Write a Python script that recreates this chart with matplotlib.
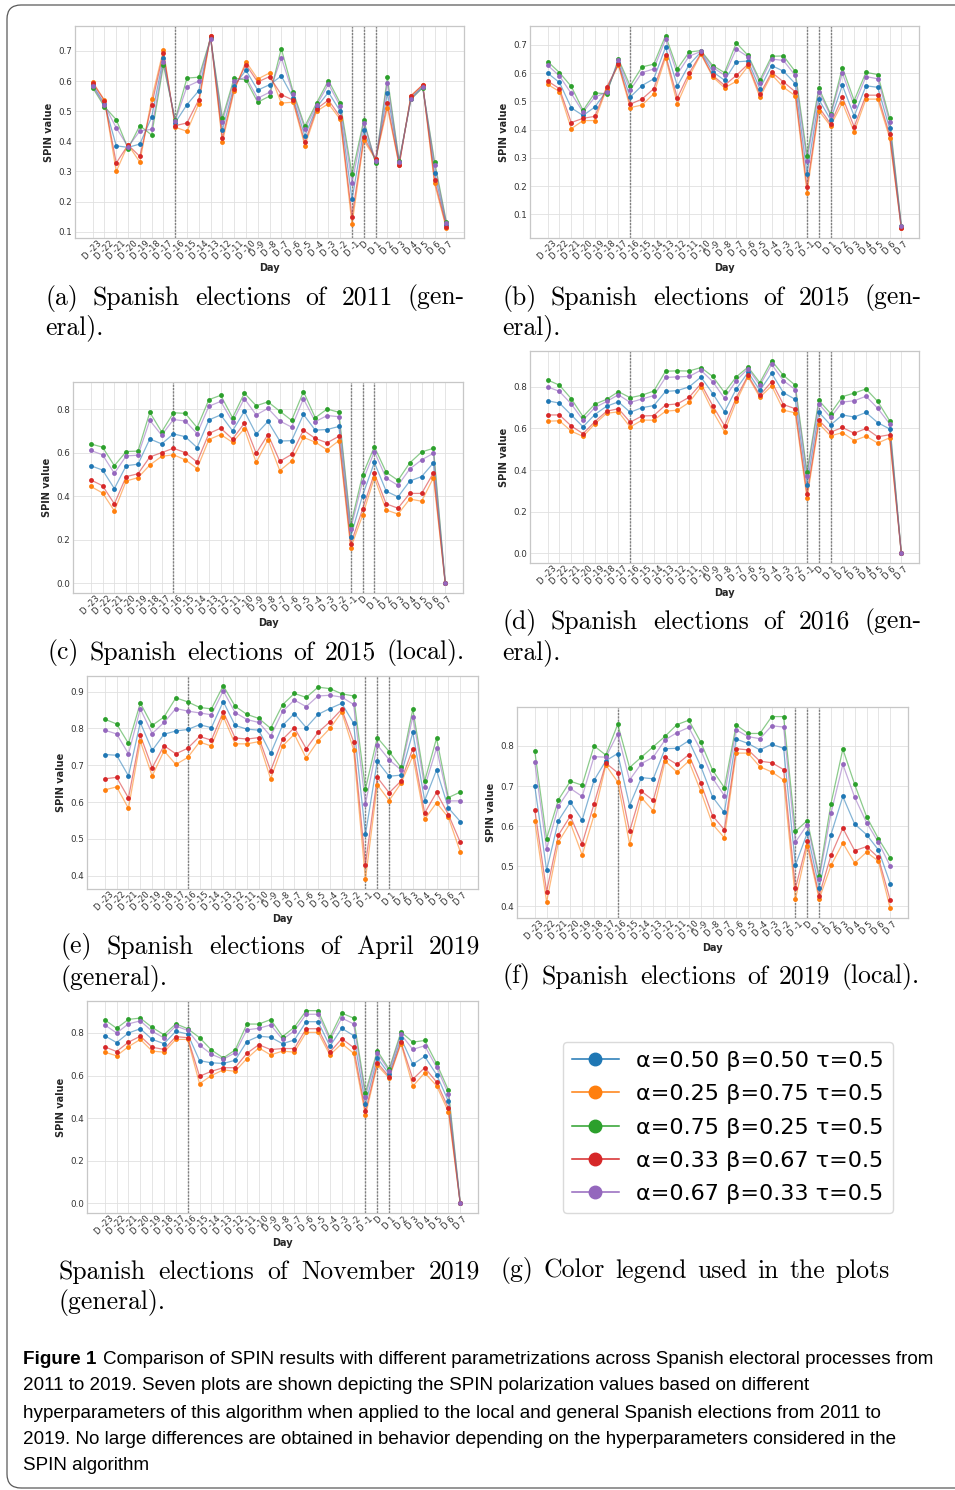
import numpy as np
import matplotlib
matplotlib.use("Agg")
import matplotlib.pyplot as plt
from matplotlib.lines import Line2D
from matplotlib.patches import FancyBboxPatch
from matplotlib.transforms import IdentityTransform

W, H = 955, 1490

DAYS = ["D -23", "D -22", "D -21", "D -20", "D -19", "D -18", "D -17", "D -16",
        "D -15", "D -14", "D -13", "D -12", "D -11", "D -10", "D -9", "D -8",
        "D -7", "D -6", "D -5", "D -4", "D -3", "D -2", "D -1", "D",
        "D 1", "D 2", "D 3", "D 4", "D 5", "D 6", "D 7"]
VLINE_DAYS = ["D -16", "D -1", "D", "D 1"]

LABELS = ["α=0.50 β=0.50 τ=0.5", "α=0.25 β=0.75 τ=0.5", "α=0.75 β=0.25 τ=0.5",
          "α=0.33 β=0.67 τ=0.5", "α=0.67 β=0.33 τ=0.5"]
COLORS = ["#1f77b4", "#ff7f0e", "#2ca02c", "#d62728", "#9467bd"]

# (a) 2011 general
A_B = [.587,.525,.385,.380,.391,.480,.678,.462,.522,.568,.745,.437,.585,.636,.570,.588,.617,.545,.418,.513,.563,.500,.207,.437,.333,.561,.330,.545,.582,.296,.123]
A_O = [.597,.537,.300,.389,.331,.540,.703,.447,.433,.525,.750,.397,.567,.665,.607,.627,.527,.530,.386,.500,.525,.473,.124,.403,.340,.511,.321,.552,.587,.260,.111]
A_G = [.578,.515,.472,.376,.452,.421,.653,.472,.610,.613,.742,.477,.610,.604,.530,.550,.708,.565,.450,.528,.602,.527,.290,.470,.328,.612,.335,.540,.578,.333,.133]
A_R = [.594,.535,.328,.388,.350,.520,.694,.452,.461,.538,.751,.410,.575,.655,.597,.615,.555,.537,.397,.508,.537,.481,.150,.413,.343,.526,.322,.550,.588,.272,.117]
A_P = [.583,.520,.445,.382,.434,.440,.665,.468,.582,.600,.740,.465,.600,.613,.543,.563,.678,.558,.440,.520,.590,.517,.262,.460,.335,.595,.332,.540,.580,.322,.128]

# (b) 2015 general
B_B = [.600,.567,.477,.450,.480,.537,.637,.515,.556,.580,.692,.555,.630,.675,.605,.575,.640,.643,.545,.627,.607,.563,.243,.507,.435,.557,.448,.555,.550,.405,.055]
B_O = [.560,.535,.403,.432,.432,.545,.628,.478,.487,.527,.655,.492,.588,.667,.587,.548,.571,.625,.515,.595,.550,.520,.177,.467,.413,.495,.392,.508,.508,.372,.050]
B_G = [.641,.602,.553,.468,.530,.527,.650,.555,.622,.632,.733,.615,.675,.680,.627,.602,.707,.663,.575,.660,.661,.606,.308,.547,.455,.620,.503,.603,.595,.440,.060]
B_R = [.572,.545,.425,.440,.447,.550,.632,.490,.508,.545,.665,.512,.600,.670,.592,.557,.592,.632,.525,.603,.569,.534,.197,.480,.420,.515,.410,.522,.522,.383,.051]
B_P = [.628,.590,.528,.462,.515,.532,.645,.540,.602,.615,.720,.597,.660,.677,.620,.593,.685,.658,.565,.650,.645,.592,.288,.535,.450,.600,.485,.588,.580,.428,.057]

# (c) 2015 local
C_B = [.54,.52,.435,.54,.547,.663,.64,.686,.673,.623,.75,.773,.70,.79,.685,.743,.653,.655,.775,.703,.706,.72,.215,.403,.555,.423,.397,.47,.49,.553,0]
C_O = [.445,.415,.333,.47,.485,.543,.583,.59,.567,.527,.66,.683,.647,.71,.555,.66,.517,.562,.67,.648,.613,.655,.163,.312,.485,.337,.318,.387,.377,.485,0]
C_G = [.64,.625,.54,.605,.607,.785,.695,.783,.78,.715,.843,.863,.76,.873,.815,.833,.79,.748,.88,.76,.80,.785,.267,.497,.627,.51,.473,.553,.603,.62,0]
C_R = [.475,.448,.365,.49,.503,.58,.60,.62,.60,.557,.688,.712,.662,.735,.597,.683,.56,.592,.703,.665,.645,.675,.18,.34,.505,.365,.345,.413,.413,.507,0]
C_P = [.61,.59,.505,.585,.588,.748,.68,.752,.745,.687,.813,.835,.742,.848,.773,.803,.745,.717,.847,.742,.77,.765,.25,.467,.605,.483,.45,.525,.567,.597,0]

# (d) 2016 general
D_B = [.733,.722,.665,.608,.667,.707,.728,.678,.70,.71,.778,.782,.80,.847,.768,.68,.79,.87,.783,.865,.772,.74,.328,.678,.617,.665,.655,.677,.628,.598,0]
D_O = [.635,.637,.587,.562,.622,.673,.68,.607,.64,.64,.683,.688,.725,.80,.683,.585,.73,.848,.75,.805,.688,.675,.265,.623,.565,.58,.542,.563,.53,.555,0]
D_G = [.833,.808,.743,.657,.717,.74,.777,.748,.76,.78,.875,.877,.876,.893,.85,.773,.848,.895,.82,.926,.855,.808,.39,.735,.672,.753,.77,.79,.73,.638,0]
D_R = [.665,.665,.612,.575,.633,.683,.695,.63,.66,.662,.713,.718,.75,.815,.71,.613,.748,.855,.76,.825,.715,.695,.285,.64,.582,.605,.577,.60,.56,.57,0]
D_P = [.80,.778,.718,.64,.70,.73,.762,.725,.742,.758,.845,.848,.85,.88,.825,.745,.83,.888,.807,.908,.83,.787,.37,.718,.653,.727,.733,.755,.697,.623,0]

# (e) April 2019 general
E_B = [.729,.727,.671,.816,.74,.784,.793,.797,.81,.802,.873,.808,.798,.795,.732,.808,.84,.802,.838,.854,.868,.814,.512,.711,.670,.673,.789,.604,.687,.584,.547]
E_O = [.633,.641,.583,.765,.671,.739,.702,.721,.763,.752,.832,.758,.758,.764,.663,.752,.784,.719,.766,.80,.844,.742,.39,.647,.604,.651,.725,.553,.598,.558,.465]
E_G = [.825,.812,.759,.869,.808,.831,.883,.872,.857,.853,.916,.86,.838,.827,.80,.864,.895,.884,.912,.908,.894,.888,.635,.775,.737,.694,.852,.657,.773,.612,.627]
E_R = [.663,.667,.611,.781,.693,.753,.731,.746,.778,.768,.845,.774,.771,.775,.685,.77,.802,.745,.789,.818,.852,.764,.43,.667,.625,.657,.745,.57,.626,.566,.491]
E_P = [.795,.785,.731,.853,.786,.816,.854,.847,.842,.837,.902,.843,.824,.816,.779,.846,.877,.859,.888,.89,.885,.865,.595,.755,.715,.687,.832,.641,.746,.603,.603]

# (f) 2019 local
F_B = [.70,.49,.614,.66,.615,.714,.763,.781,.651,.721,.718,.793,.794,.813,.75,.673,.634,.817,.806,.79,.804,.794,.503,.583,.447,.579,.674,.605,.579,.541,.457]
F_O = [.613,.411,.561,.608,.528,.627,.752,.71,.556,.671,.638,.762,.735,.762,.688,.605,.571,.782,.782,.748,.735,.715,.418,.551,.418,.502,.558,.508,.535,.513,.395]
F_G = [.787,.569,.666,.712,.702,.80,.777,.854,.746,.772,.798,.824,.853,.864,.81,.74,.696,.852,.831,.831,.873,.873,.587,.614,.476,.656,.792,.704,.624,.569,.521]
F_R = [.641,.437,.578,.625,.556,.655,.757,.733,.587,.687,.664,.772,.754,.778,.708,.626,.591,.793,.79,.762,.758,.741,.445,.562,.427,.527,.595,.539,.549,.522,.415]
F_P = [.759,.543,.65,.694,.674,.773,.772,.83,.715,.756,.772,.815,.833,.846,.79,.72,.676,.84,.823,.818,.85,.847,.56,.604,.469,.632,.754,.672,.609,.56,.50]

# (g) November 2019 general
G_B = [.787,.755,.80,.82,.77,.75,.808,.795,.67,.66,.657,.672,.76,.785,.78,.75,.767,.853,.853,.738,.822,.788,.465,.683,.607,.775,.653,.69,.605,.48,0]
G_O = [.71,.693,.736,.77,.715,.71,.77,.77,.562,.60,.627,.62,.68,.73,.697,.715,.71,.803,.803,.697,.75,.705,.413,.648,.588,.75,.55,.613,.553,.43,0]
G_G = [.862,.822,.864,.87,.826,.792,.843,.82,.778,.72,.683,.72,.842,.842,.863,.783,.827,.905,.905,.78,.893,.87,.52,.717,.63,.805,.757,.765,.657,.532,0]
G_R = [.735,.713,.757,.785,.733,.723,.783,.778,.597,.62,.637,.637,.705,.745,.722,.727,.727,.82,.82,.71,.773,.732,.432,.66,.595,.757,.583,.637,.57,.447,0]
G_P = [.838,.80,.843,.857,.808,.777,.833,.812,.743,.70,.677,.707,.815,.822,.838,.77,.81,.888,.888,.767,.87,.843,.50,.705,.622,.793,.723,.74,.64,.515,0]

plt.rcParams["font.family"] = ["DejaVu Sans"]
fig = plt.figure(figsize=(W / 100, H / 100), dpi=100)
fig.patch.set_facecolor("white")


def px_rect(l, t, r, b):
    return [l / W, 1 - b / H, (r - l) / W, (b - t) / H]


def draw_panel(rect, series):
    ax = fig.add_axes(px_rect(*rect))
    x = np.arange(len(DAYS))
    for d in VLINE_DAYS:
        ax.axvline(DAYS.index(d), color="0.5", ls=(0, (1.6, 0.8)), lw=1.0, zorder=1.5)
    for vals, c in zip(series, COLORS):
        ax.plot(x, vals, color=c, lw=0.9, alpha=0.55, zorder=2)
    for vals, c in zip(series, COLORS):
        ax.plot(x, vals, ls="none", marker="o", ms=3.5, mew=0, color=c, zorder=3)
    ax.set_xticks(x)
    ax.set_xticklabels(DAYS, rotation=45)
    ax.set_xlabel("Day", fontweight="bold", fontsize=7, labelpad=1, color="0.15")
    ax.set_ylabel("SPIN value", fontweight="bold", fontsize=7, labelpad=3, color="0.15")
    ax.grid(True, color="0.88", lw=0.6)
    ax.set_axisbelow(True)
    for s in ax.spines.values():
        s.set_color("0.78")
        s.set_linewidth(0.9)
    ax.tick_params(length=0, pad=2, labelsize=6.3, colors="0.2")
    ax.tick_params(axis="x", labelsize=6.0, pad=1)
    return ax


draw_panel((75, 26, 464, 238), [A_B, A_O, A_G, A_R, A_P])
draw_panel((530, 26, 919, 238), [B_B, B_O, B_G, B_R, B_P])
draw_panel((73, 382, 463, 593), [C_B, C_O, C_G, C_R, C_P])
draw_panel((530, 351, 919, 563), [D_B, D_O, D_G, D_R, D_P])
draw_panel((87, 676, 478, 889), [E_B, E_O, E_G, E_R, E_P])
draw_panel((517, 707, 908, 918), [F_B, F_O, F_G, F_R, F_P])
draw_panel((87, 1001, 478, 1213), [G_B, G_O, G_G, G_R, G_P])

# legend panel
handles = [Line2D([], [], color=c, marker="o", ms=9, lw=1.1) for c in COLORS]
fig.legend(handles, LABELS, loc="upper left", bbox_to_anchor=(563 / W, 1 - 1042 / H),
           bbox_transform=fig.transFigure, fontsize=16, frameon=True, borderaxespad=0,
           handlelength=2.1, handletextpad=0.8, labelspacing=0.6, borderpad=0.4,
           edgecolor="0.82", fancybox=True)

renderer = fig.canvas.get_renderer()
CAP_KW = dict(family="cmr10", fontsize=18.5, color="black", va="center")


def justify(words, x0, x1, y, **kw):
    texts = [fig.text(0, 0, w, **kw) for w in words]
    widths = [t.get_window_extent(renderer).width for t in texts]
    gap = (x1 - x0 - sum(widths)) / (len(words) - 1)
    x = x0
    for t, w in zip(texts, widths):
        t.set_position((x / W, 1 - y / H))
        x += w + gap


def left(text, x, y, **kw):
    fig.text(x / W, 1 - y / H, text, **kw)


justify(["(a)", "Spanish", "elections", "of", "2011", "(gen-"], 45, 465, 298, **CAP_KW)
left("eral).", 45, 328, **CAP_KW)
justify(["(b)", "Spanish", "elections", "of", "2015", "(gen-"], 502, 922, 298, **CAP_KW)
left("eral).", 502, 328, **CAP_KW)
justify(["(c)", "Spanish", "elections", "of", "2015", "(local)."], 47, 465, 653, **CAP_KW)
justify(["(d)", "Spanish", "elections", "of", "2016", "(gen-"], 502, 922, 622, **CAP_KW)
left("eral).", 502, 653, **CAP_KW)
justify(["(e)", "Spanish", "elections", "of", "April", "2019"], 60, 480, 947, **CAP_KW)
left("(general).", 60, 978, **CAP_KW)
justify(["(f)", "Spanish", "elections", "of", "2019", "(local)."], 502, 920, 977, **CAP_KW)
justify(["Spanish", "elections", "of", "November", "2019"], 58, 480, 1272, **CAP_KW)
left("(general).", 58, 1302, **CAP_KW)
justify(["(g)", "Color", "legend", "used", "in", "the", "plots"], 500, 890, 1271, **CAP_KW)

# figure caption
CAPFAM = ["Liberation Sans Narrow", "Liberation Sans", "DejaVu Sans"]
FIRST_LINE = "Comparison of SPIN results with different parametrizations across Spanish electoral processes from"
CAPTION_LINES = [
    "2011 to 2019. Seven plots are shown depicting the SPIN polarization values based on different",
    "hyperparameters of this algorithm when applied to the local and general Spanish elections from 2011 to",
    "2019. No large differences are obtained in behavior depending on the hyperparameters considered in the",
    "SPIN algorithm",
]
p1 = fig.text(0, 0, "Figure 1", family=CAPFAM, fontsize=10, fontweight="bold")
p2 = fig.text(0, 0, FIRST_LINE, family=CAPFAM, fontsize=10)
w1 = p1.get_window_extent(renderer).width + p2.get_window_extent(renderer).width
p1.remove(); p2.remove()
cs = 10 * (917 - 7) / w1
fig_lbl = fig.text(23 / W, 1 - 1360 / H, "Figure 1", family=CAPFAM, fontsize=cs, fontweight="bold", va="center")
lw_ = fig_lbl.get_window_extent(renderer).width
fig.text((23 + lw_ + 7) / W, 1 - 1360 / H, FIRST_LINE, family=CAPFAM, fontsize=cs, va="center")
for line, y in zip(CAPTION_LINES, [1386, 1413, 1439, 1466]):
    fig.text(23 / W, 1 - y / H, line, family=CAPFAM, fontsize=cs, va="center")

# outer rounded frame
frame = FancyBboxPatch((7, 2), 1000, 1483, boxstyle="round,pad=0,rounding_size=14",
                       transform=IdentityTransform(), fill=False, edgecolor="0.35", lw=0.9)
fig.patches.append(frame)

fig.savefig("out.png", dpi=100, facecolor="white")
